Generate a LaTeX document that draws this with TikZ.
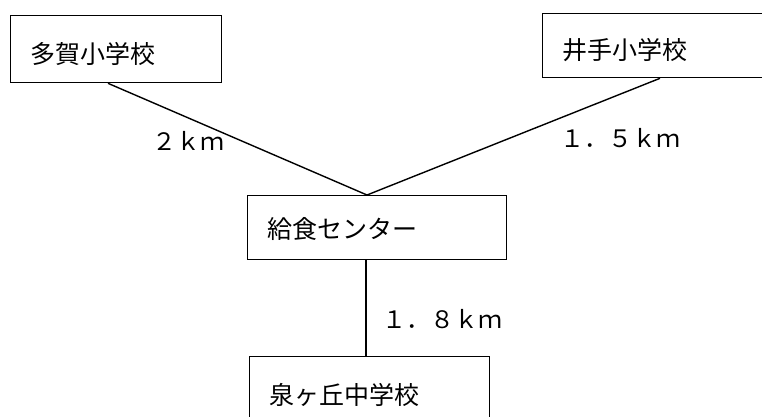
\documentclass[tikz,border=0pt]{standalone}
\usepackage{fontspec}
\setmainfont{Noto Sans CJK JP}
\begin{document}
\begin{tikzpicture}[x=1pt,y=-1pt,
  box/.style={draw=black, line width=1.3pt, rectangle, anchor=north west,
    inner xsep=20pt, inner ysep=0pt, align=left,
    font=\fontsize{25pt}{30pt}\selectfont},
  dist/.style={font=\fontsize{24pt}{28pt}\selectfont, inner sep=0pt},
  link/.style={draw=black, line width=1.4pt}]
\useasboundingbox (0,0) rectangle (762,416);
\clip (0,0) rectangle (762,416);
\fill[white] (0,0) rectangle (762,416);
% boxes
\node[box, text width=171pt, minimum height=67pt] (taga) at (10,15)
  {\raisebox{-5pt}[\height][\depth]{多賀小学校}};
\node[box, text width=200pt, minimum height=64pt] (ide) at (542,13)
  {\raisebox{-4pt}[\height][\depth]{井手小学校}};
\node[box, text width=219pt, minimum height=64pt] (center) at (247,195)
  {\raisebox{-1pt}[\height][\depth]{給食センター}};
\node[box, text width=200pt, minimum height=100pt] (izumi) at (249,356)
  {\raisebox{12pt}[\height][\depth]{泉ヶ丘中学校}};
% connection points
\coordinate (j) at ([xshift=120pt]center.north west);
\coordinate (v) at ([xshift=119pt]center.south west);
% connectors
\draw[link] ([xshift=98pt]taga.south west) -- (j);
\draw[link] ([xshift=118pt]ide.south west) -- (j);
\draw[link] (v) -- (v |- izumi.north);
% distance labels
\node[dist] (d1) at (188,141) {２ｋｍ};
\node[dist] (d2) at (620,138) {１．５ｋｍ};
\node[dist] (d3) at (442,319) {１．８ｋｍ};
\end{tikzpicture}
\end{document}
